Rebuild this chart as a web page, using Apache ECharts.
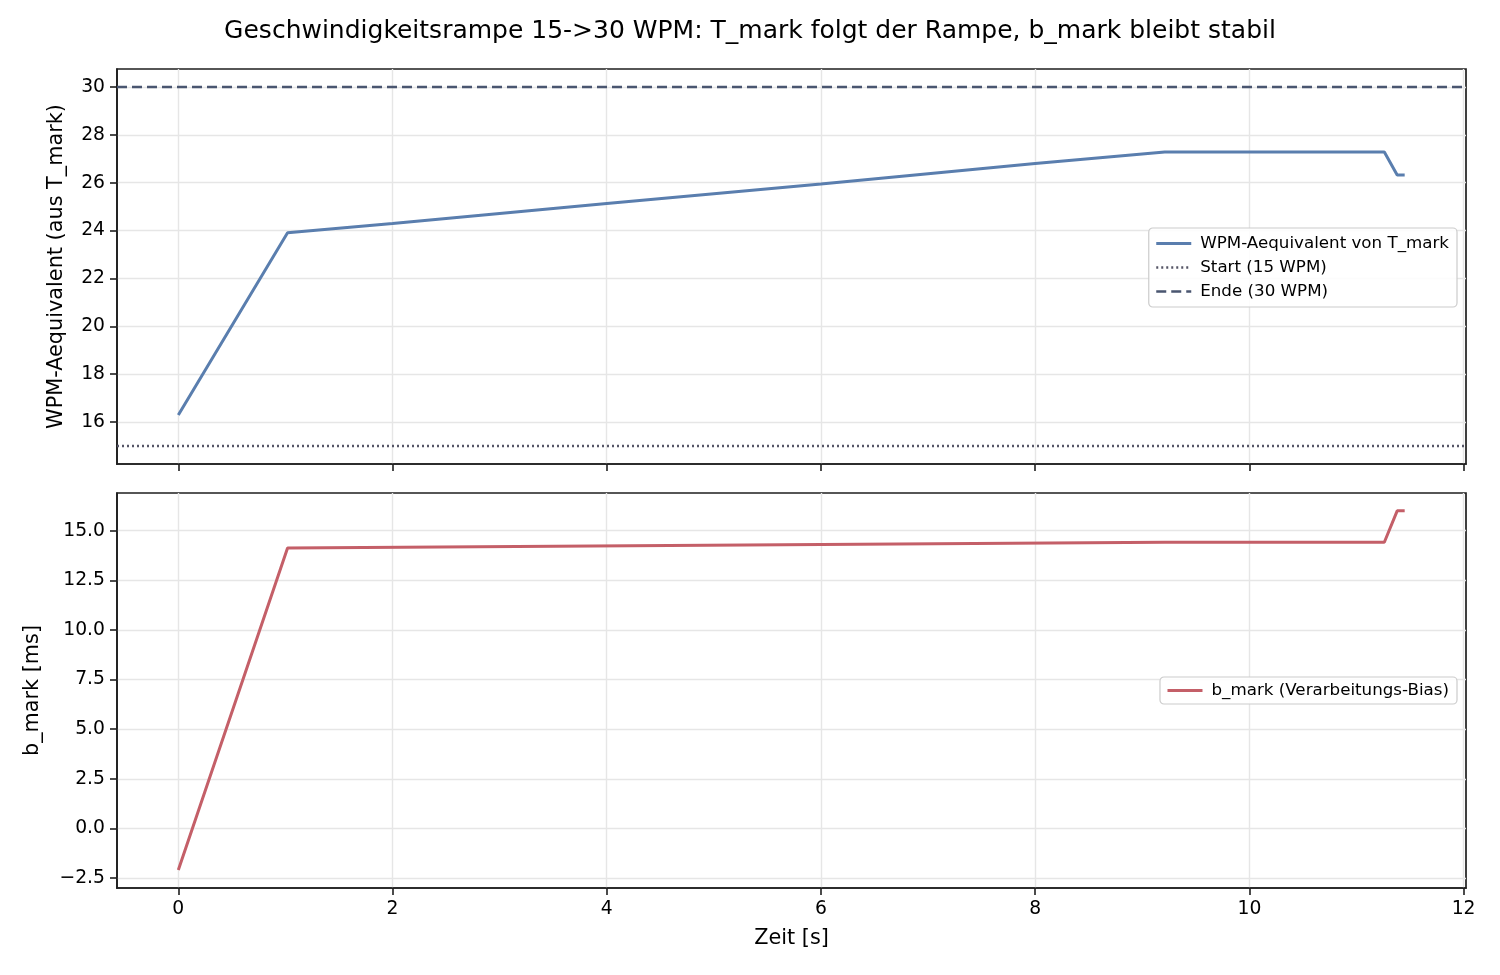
<!DOCTYPE html>
<html>
<head>
<meta charset="utf-8">
<script src="https://cdn.jsdelivr.net/npm/echarts@6/dist/echarts.min.js"></script>
<style>
html,body{margin:0;padding:0;background:#fff;}
#chart{width:1500px;height:975px;}
</style>
</head>
<body>
<div id="chart"></div>
<script>
// ---- data ----
const timeTop = [0, 1.02, 2, 4, 6, 8, 9.21, 11.26, 11.38, 11.45];
const wpmValues = [16.3, 23.91, 24.30, 25.13, 25.95, 26.80, 27.28, 27.28, 26.32, 26.32];
const timeBottom = [0, 1.02, 9.21, 11.26, 11.38, 11.45];
const bMarkValues = [-2.09, 14.13, 14.42, 14.42, 16.0, 16.0];
const startWpm = [15];
const endWpm = [30];
const xTicks = [0, 2, 4, 6, 8, 10, 12];
const yTopTicks = [16, 18, 20, 22, 24, 26, 28, 30];
const yBottomTicks = [-2.5, 0, 2.5, 5, 7.5, 10, 12.5, 15];

const FONT = 'DejaVu Sans';
const frame = '#1f1f1f';
const gridColor = '#e6e6e6';
const blue = '#5a7eae';
const red = '#c45f68';
const dotColor = '#555566';
const dashColor = '#4a5670';

const chart = echarts.init(document.getElementById('chart'), null, {renderer: 'canvas'});

function xAxis(idx, showLabels) {
  return {
    type: 'value', gridIndex: idx, min: -0.5725, max: 12.0225,
    axisLine: {show: true, onZero: false, lineStyle: {color: frame, width: 1.7}},
    axisTick: {show: true, length: 7, customValues: xTicks, lineStyle: {color: frame, width: 1.6}},
    axisLabel: {show: showLabels, customValues: xTicks, fontFamily: FONT, fontSize: 18.75, color: '#000', margin: 12},
    splitLine: {show: true, lineStyle: {color: gridColor, width: 1.4}},
    name: showLabels ? 'Zeit [s]' : '', nameLocation: 'middle', nameGap: 40,
    nameTextStyle: {fontFamily: FONT, fontSize: 20.8, color: '#000'}
  };
}
function yAxis(idx, min, max, ticks, name, gap, fmt) {
  return {
    type: 'value', gridIndex: idx, min: min, max: max,
    axisLine: {show: true, onZero: false, lineStyle: {color: frame, width: 1.7}},
    axisTick: {show: true, length: 7, customValues: ticks, lineStyle: {color: frame, width: 1.6}},
    axisLabel: {show: true, customValues: ticks, fontFamily: FONT, fontSize: 18.75, color: '#000', margin: 12, formatter: fmt},
    splitLine: {show: true, lineStyle: {color: gridColor, width: 1.4}},
    name: name, nameLocation: 'middle', nameGap: gap,
    nameTextStyle: {fontFamily: FONT, fontSize: 20.8, color: '#000'}
  };
}

const legendCommon = {
  orient: 'vertical', right: 43,
  itemWidth: 35, itemHeight: 14,
  backgroundColor: 'rgba(255,255,255,0.85)', borderColor: '#cccccc', borderWidth: 1.2, borderRadius: 4,
  itemStyle: {opacity: 0},
  lineStyle: {opacity: 1},
  textStyle: {fontFamily: FONT, fontSize: 16.7, color: '#000', padding: [0, 0, 0, 4]}
};

const option = {
  animation: false,
  backgroundColor: '#fff',
  title: {
    text: 'Geschwindigkeitsrampe 15->30 WPM: T_mark folgt der Rampe, b_mark bleibt stabil',
    left: 'center', top: 14,
    textStyle: {fontFamily: FONT, fontSize: 25, fontWeight: 'normal', color: '#000'}
  },
  grid: [
    {left: 117, width: 1349, top: 69, height: 395, show: true, borderColor: frame, borderWidth: 1.7, backgroundColor: 'transparent'},
    {left: 117, width: 1349, top: 493, height: 395, show: true, borderColor: frame, borderWidth: 1.7, backgroundColor: 'transparent'}
  ],
  xAxis: [xAxis(0, false), xAxis(1, true)],
  yAxis: [
    yAxis(0, 14.25, 30.75, yTopTicks, 'WPM-Aequivalent (aus T_mark)', 50, v => String(v)),
    yAxis(1, -3.0, 16.9, yBottomTicks, 'b_mark [ms]', 74, v => v.toFixed(1).replace('-', '\u2212'))
  ],
  legend: [
    Object.assign({}, legendCommon, {
      data: [
        {name: 'WPM-Aequivalent von T_mark', lineStyle: {width: 3}},
        {name: 'Start (15 WPM)', lineStyle: {width: 2.4}},
        {name: 'Ende (30 WPM)', lineStyle: {width: 2.4}}
      ],
      top: 228, itemGap: 7, padding: [7, 8, 7, 6]
    }),
    Object.assign({}, legendCommon, {
      data: [{name: 'b_mark (Verarbeitungs-Bias)', lineStyle: {width: 3}}],
      top: 677, padding: [5, 8, 5, 6]
    })
  ],
  series: [
    {
      name: 'WPM-Aequivalent von T_mark', type: 'line', xAxisIndex: 0, yAxisIndex: 0,
      data: timeTop.map((t, i) => [t, wpmValues[i]]),
      showSymbol: false, symbol: 'none', color: blue,
      lineStyle: {color: blue, width: 3}
    },
    {
      name: 'Start (15 WPM)', type: 'line', xAxisIndex: 0, yAxisIndex: 0, data: [],
      symbol: 'none', color: dotColor,
      lineStyle: {color: dotColor, width: 2.4, type: [2, 3]},
      markLine: {silent: true, symbol: ['none', 'none'], label: {show: false},
        lineStyle: {color: dotColor, width: 2.4, type: [2, 3]},
        data: startWpm.map(v => ({yAxis: v}))}
    },
    {
      name: 'Ende (30 WPM)', type: 'line', xAxisIndex: 0, yAxisIndex: 0, data: [],
      symbol: 'none', color: dashColor,
      lineStyle: {color: dashColor, width: 2.4, type: [10, 5]},
      markLine: {silent: true, symbol: ['none', 'none'], label: {show: false},
        lineStyle: {color: dashColor, width: 2.4, type: [10, 5]},
        data: endWpm.map(v => ({yAxis: v}))}
    },
    {
      name: 'b_mark (Verarbeitungs-Bias)', type: 'line', xAxisIndex: 1, yAxisIndex: 1,
      data: timeBottom.map((t, i) => [t, bMarkValues[i]]),
      showSymbol: false, symbol: 'none', color: red,
      lineStyle: {color: red, width: 3}
    }
  ]
};
chart.setOption(option);
</script>
</body>
</html>
